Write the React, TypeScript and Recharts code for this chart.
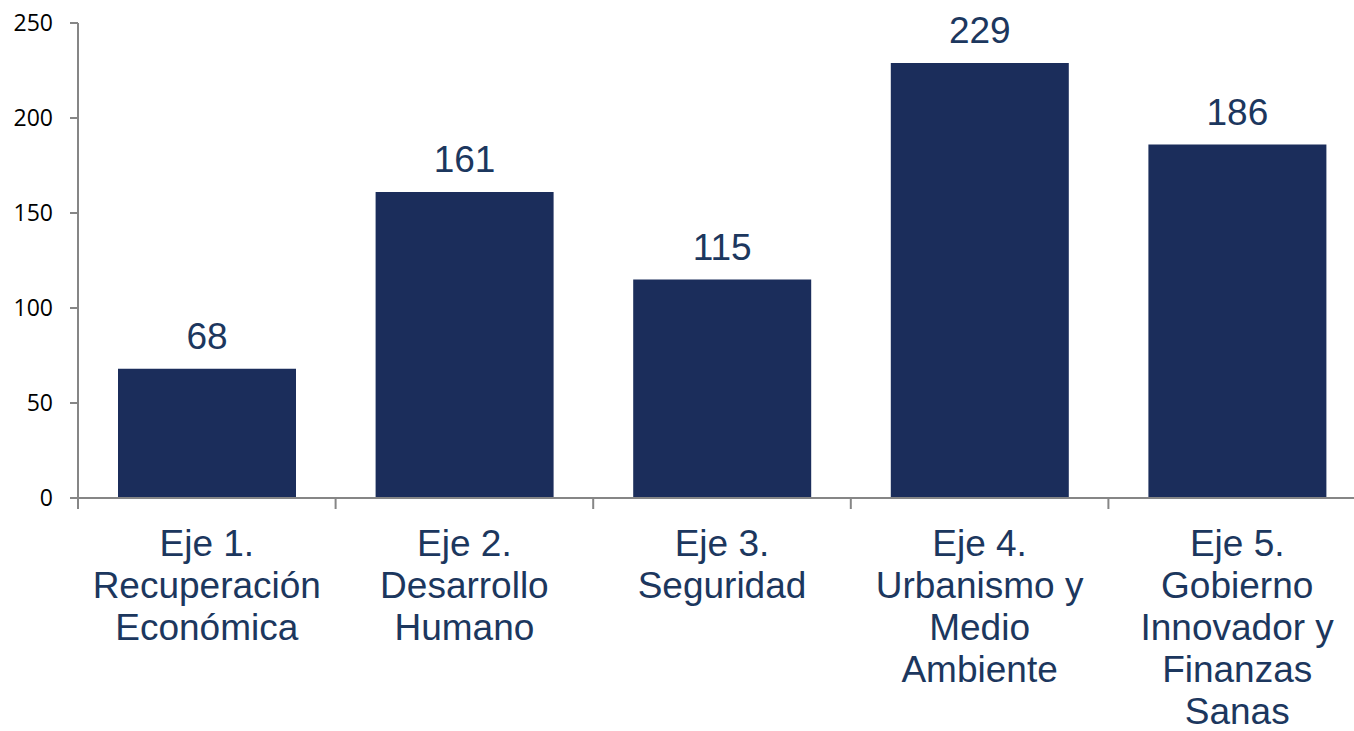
import React from 'react';
import { BarChart, Bar, XAxis, YAxis, LabelList } from 'recharts';

// Chart data
const categories = [
  'Eje 1.\nRecuperación\nEconómica',
  'Eje 2.\nDesarrollo\nHumano',
  'Eje 3.\nSeguridad',
  'Eje 4.\nUrbanismo y\nMedio\nAmbiente',
  'Eje 5.\nGobierno\nInnovador y\nFinanzas\nSanas',
];
const values = [68, 161, 115, 229, 186];
const yTicks = [0, 50, 100, 150, 200, 250];

const CHART_WIDTH = 1380;
const CHART_HEIGHT = 731;
const Y_AXIS_WIDTH = 78;
const RIGHT_MARGIN = 14;
const BAND = (CHART_WIDTH - Y_AXIS_WIDTH - RIGHT_MARGIN) / categories.length;

const TEXT_COLOR = '#1c375e';
const BAR_COLOR = '#1b2d5b';
const AXIS_COLOR = '#868686';

const data = categories.map((name, i) => ({ name, value: values[i] }));

// Category label with boundary tick marks
const CategoryTick = ({ x, y, payload, index }: any) => {
  const lines = String(payload.value).split('\n');
  const left = x - BAND / 2;
  const right = x + BAND / 2;
  return (
    <g>
      <line x1={left} x2={left} y1={y - 11} y2={y} stroke={AXIS_COLOR} strokeWidth={2} />
      {index === categories.length - 1 && (
        <line x1={right} x2={right} y1={y - 11} y2={y} stroke={AXIS_COLOR} strokeWidth={2} />
      )}
      <text
        textAnchor="middle"
        fill={TEXT_COLOR}
        fontSize={37}
        fontFamily="'Liberation Sans', Arial, sans-serif"
      >
        {lines.map((line, i) => (
          <tspan key={i} x={x} y={y + 47 + i * 42}>
            {line}
          </tspan>
        ))}
      </text>
    </g>
  );
};

export default function App() {
  return (
    <div
      style={{
        position: 'fixed',
        left: 0,
        top: 0,
        width: 1354,
        height: 731,
        overflow: 'hidden',
        background: '#fff',
      }}
    >
      <BarChart
        width={CHART_WIDTH}
        height={CHART_HEIGHT}
        data={data}
        margin={{ top: 23, right: RIGHT_MARGIN, left: 0, bottom: 0 }}
        barCategoryGap={40}
      >
        <XAxis
          dataKey="name"
          height={233}
          interval={0}
          tickLine={false}
          tickSize={11}
          tickMargin={0}
          axisLine={{ stroke: AXIS_COLOR, strokeWidth: 2 }}
          tick={<CategoryTick />}
        />
        <YAxis
          width={Y_AXIS_WIDTH}
          domain={[0, 250]}
          ticks={yTicks}
          interval={0}
          tickSize={8}
          tickMargin={17}
          axisLine={{ stroke: AXIS_COLOR, strokeWidth: 2 }}
          tickLine={{ stroke: AXIS_COLOR, strokeWidth: 2 }}
          tick={{ fill: '#000', fontSize: 23, fontFamily: "'Open Sans', sans-serif" }}
        />
        <Bar dataKey="value" fill={BAR_COLOR} isAnimationActive={false}>
          <LabelList
            dataKey="value"
            position="top"
            offset={20}
            fill={TEXT_COLOR}
            fontSize={37}
            fontFamily="'Liberation Sans', Arial, sans-serif"
          />
        </Bar>
      </BarChart>
    </div>
  );
}
